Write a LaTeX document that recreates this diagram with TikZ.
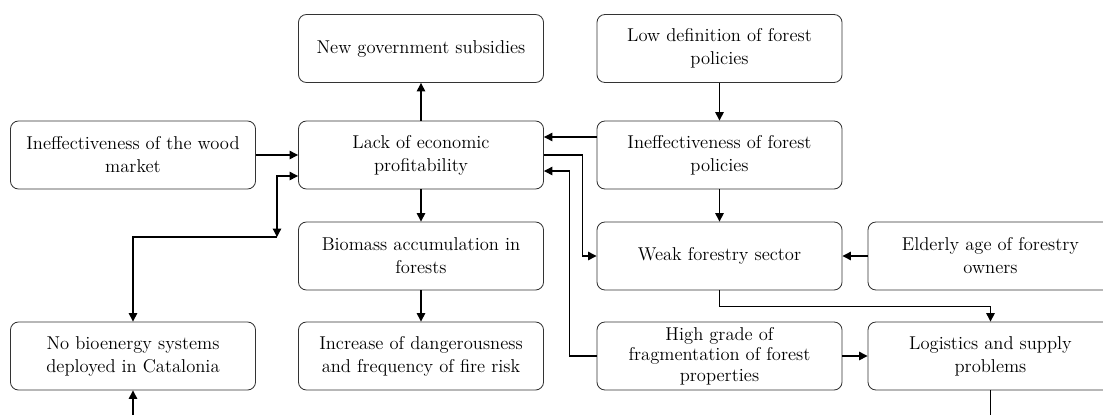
\documentclass[tikz,border=0pt]{standalone}
\usetikzlibrary{arrows.meta}

\def\boxw{6.125cm}
\def\boxh{1.7cm}

\begin{document}
\begin{tikzpicture}[x=0.025cm,y=-0.025cm,line width=0.9pt,-{Triangle[length=6pt,width=6pt]}]
    \tikzstyle{problem}=[rectangle,draw=black!80,line width=0.6pt,rounded corners=0.2cm,
        minimum width=\boxw,minimum height=\boxh,inner sep=1pt,align=center,
        font=\fontsize{13.2}{16.4}\selectfont]

    % Picture frame
    \clip (0,0) rectangle (1103,415);

    % First row
    \node[problem] (subsidies) at (421,48.5) {New government subsidies};
    \node[problem] (lowdef) at (719.5,48.5) {Low definition of forest\\policies};

    % Second row
    \node[problem] (woodmkt) at (133,155) {Ineffectiveness of the wood\\market};
    \node[problem] (lack) at (421,155) {Lack of economic\\profitability};
    \node[problem] (policies) at (719.5,155) {Ineffectiveness of forest\\policies};

    % Third row
    \node[problem] (biomass) at (421,256) {Biomass accumulation in\\forests};
    \node[problem] (weak) at (719.5,256) {Weak forestry sector};
    \node[problem] (elderly) at (990.5,256) {Elderly age of forestry\\owners};

    % Fourth row
    \node[problem] (nobio) at (133,356) {No bioenergy systems\\deployed in Catalonia};
    \node[problem] (firerisk) at (421,356) {Increase of dangerousness\\and frequency of fire risk};
    \node[problem,font=\fontsize{13.2}{14.6}\selectfont] (frag) at (719.5,356) {High grade of\\fragmentation of forest\\properties};
    \node[problem] (logistics) at (990.5,356) {Logistics and supply\\problems};

    % Free ends
    \coordinate (split) at (277,237);
    \coordinate (bottomL) at (133,415);
    \coordinate (bottomR) at (990.5,415);

    % Central column
    \draw (lack) -- (subsidies);
    \draw (lack) -- (biomass);
    \draw (biomass) -- (firerisk);

    % Into the lack of profitability
    \draw (woodmkt) -- (lack);
    \draw ([yshift=0.45cm]policies.west) -- ([yshift=0.45cm]lack.east);
    \draw (frag.west) -- ++(-27,0) |- ([yshift=-0.4cm]lack.east);
    \draw[{Triangle[length=6pt,width=6pt]}-{Triangle[length=6pt,width=6pt]}] (split) |- ([yshift=-0.525cm]lack.west);
    \draw (split) -| (nobio.north);

    % Forest policies and sector
    \draw (lowdef) -- (policies);
    \draw (policies) -- (weak);
    \draw (lack.east) -| ([xshift=-0.35cm]weak.west) -- (weak.west);
    \draw (elderly) -- (weak);
    \draw (weak.south) -- ++(0,16) -| (logistics.north);
    \draw (frag) -- (logistics);

    % Leaving the picture
    \draw[-] (logistics.south) -- (bottomR);
    \draw (bottomL) -- (nobio.south);
\end{tikzpicture}
\end{document}
